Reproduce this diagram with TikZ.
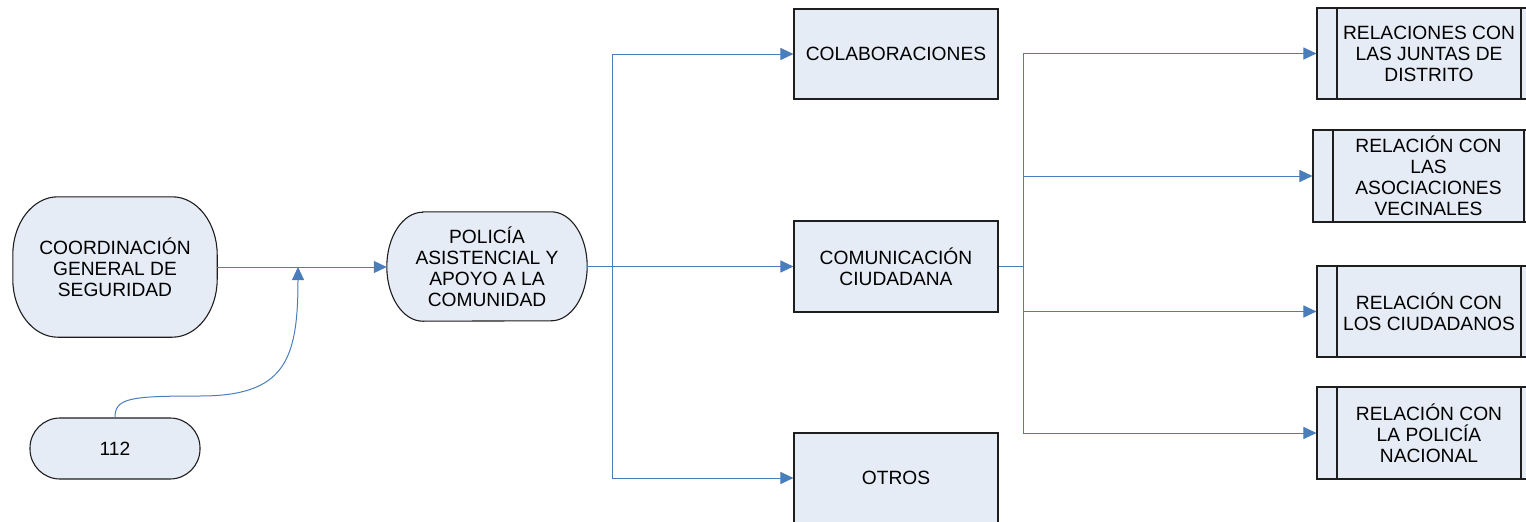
\documentclass[tikz,border=0pt]{standalone}
\usepackage{fontspec}
\setmainfont{Liberation Sans}
\usetikzlibrary{arrows.meta,backgrounds}
\definecolor{boxfill}{RGB}{230,236,246}
\definecolor{linkblue}{RGB}{74,126,187}
\definecolor{boxedge}{RGB}{30,30,30}
\begin{document}
\begin{tikzpicture}[x=1pt,y=-1pt,
  txt/.style={inner sep=0pt, align=center, font=\fontsize{19.2}{21}\selectfont},
  base/.style={txt, draw=boxedge, line width=1.1pt, fill=boxfill},
  term/.style={base, rounded corners=#1},
  procbox/.style={base, rectangle},
  predef/.style={base, path picture={
    \draw[boxedge, line width=1.1pt]
      ([xshift=20pt]path picture bounding box.north west) -- ([xshift=20pt]path picture bounding box.south west)
      ([xshift=-20pt]path picture bounding box.north east) -- ([xshift=-20pt]path picture bounding box.south east);}},
  oval/.style={draw=boxedge, line width=1.1pt, fill=boxfill},
  wire/.style={draw=linkblue, line width=1pt},
  link/.style={wire, -{Triangle[length=13pt,width=12pt]}}]
\useasboundingbox (0,0) rectangle (1526,522);
\clip (0,0) rectangle (1526,522);

\node[txt, minimum width=204pt, minimum height=140pt] (coord) at (115,267)
  {COORDINACIÓN\\GENERAL DE\\SEGURIDAD};
\node[txt, minimum width=200pt, minimum height=109pt] (pol) at (487,266.5)
  {POLICÍA\\ASISTENCIAL Y\\APOYO A LA\\COMUNIDAD};
\begin{scope}[on background layer]
  \path[oval] ([xshift=45pt]coord.north west) -- ([xshift=-45pt]coord.north east)
    arc[start angle=90, end angle=0, x radius=45pt, y radius=58pt]
    -- ([yshift=58pt]coord.south east)
    arc[start angle=0, end angle=-90, x radius=45pt, y radius=58pt]
    -- ([xshift=45pt]coord.south west)
    arc[start angle=270, end angle=180, x radius=45pt, y radius=58pt]
    -- ([yshift=-58pt]coord.north west)
    arc[start angle=180, end angle=90, x radius=45pt, y radius=58pt] -- cycle;
  \path[oval] ([xshift=36pt]pol.north west) -- ([xshift=-36pt]pol.north east)
    arc[start angle=90, end angle=-90, x radius=36pt, y radius=54.5pt]
    -- ([xshift=36pt]pol.south west)
    arc[start angle=270, end angle=90, x radius=36pt, y radius=54.5pt] -- cycle;
\end{scope}
\node[term=30pt, minimum width=170pt, minimum height=61pt] (n112) at (115,448.5) {112};

\node[procbox, minimum width=204pt, minimum height=90pt] (colab) at (896,54) {COLABORACIONES};
\node[procbox, minimum width=204pt, minimum height=91pt] (comun) at (896,266.5) {COMUNICACIÓN\\CIUDADANA};
\node[procbox, minimum width=204pt, minimum height=90pt] (otros) at (896,478) {OTROS};

\node[predef, minimum width=224pt, minimum height=91pt] (r1) at (1429,53.5)
  {RELACIONES CON\\LAS JUNTAS DE\\DISTRITO};
\node[predef, minimum width=231pt, minimum height=92pt] (r2) at (1428.5,176)
  {RELACIÓN CON\\LAS\\ASOCIACIONES\\VECINALES};
\node[predef, minimum width=224pt, minimum height=91pt] (r3) at (1429,311.5)
  {RELACIÓN CON\\LOS CIUDADANOS};
\node[predef, minimum width=224pt, minimum height=92pt] (r4) at (1429,433)
  {RELACIÓN CON\\LA POLICÍA\\NACIONAL};

\coordinate (m112) at (298,267);
\coordinate (b1) at (612,266.5);
\coordinate (b2) at (1023,266.5);

\draw[link] (coord.east) -- (coord.east -| pol.west);
\draw[link] (n112.north) .. controls (115,398) and (130,396) .. (200,396)
  .. controls (285,396) and (298,360) .. (m112);

\draw[wire] (pol.east) -- (b1);
\draw[link] (b1) |- (colab.west);
\draw[link] (b1) -- (comun.west);
\draw[link] (b1) |- (otros.west);

\draw[wire, line width=1.4pt] (comun.east) -- (b2);
\draw[link] (b2) |- (r1.west);
\draw[link] (b2) |- (r2.west);
\draw[link] (b2) |- (r3.west);
\draw[link] (b2) |- (r4.west);
\end{tikzpicture}
\end{document}
